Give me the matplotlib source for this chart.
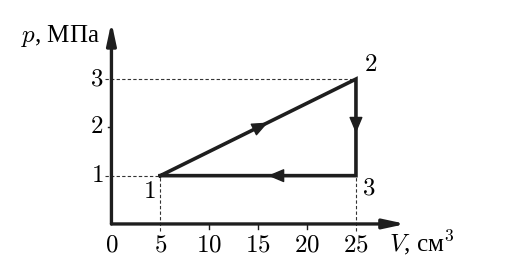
import matplotlib.pyplot as plt

plt.rcParams['mathtext.fontset'] = 'cm'
plt.rcParams['font.family'] = ['Liberation Serif', 'DejaVu Serif']

# cycle points (V in cm^3, p in MPa)
V_pts = [5, 25, 25, 5]
p_pts = [1, 3, 1, 1]
point_names = ['1', '2', '3']
x_ticks = [0, 5, 10, 15, 20, 25]
y_ticks = [1, 2, 3]

fig = plt.figure(figsize=(5.07, 2.67), dpi=100)
ax = fig.add_axes([0.1986, 0.0798, 0.625, 0.9045])
ax.set_xlim(-1.1, 31.3)
ax.set_ylim(-0.45, 4.55)
for s in ax.spines.values():
    s.set_visible(False)
ax.set_xticks([])
ax.set_yticks([])

dark = '#1e1e1e'
# axes with arrows
for tip in [(30.1, 0), (0, 4.18)]:
    ax.annotate('', xy=tip, xytext=(0, 0),
                arrowprops=dict(arrowstyle='-|>,head_length=1.3,head_width=0.28', lw=2.4, color=dark,
                                shrinkA=0, shrinkB=0, mutation_scale=10))

# dashed guides
dash = dict(ls=(0, (3, 2)), lw=0.8, color='#333')
ax.plot([-0.7, V_pts[1]], [p_pts[1], p_pts[1]], **dash)
ax.plot([-0.7, V_pts[0]], [p_pts[0], p_pts[0]], **dash)
ax.plot([V_pts[0], V_pts[0]], [-0.15, p_pts[0]], **dash)
ax.plot([V_pts[2], V_pts[2]], [-0.15, p_pts[2]], **dash)

# cycle
ax.plot(V_pts, p_pts, color=dark, lw=2.6, solid_joinstyle='miter')

# direction arrows on each segment
fracs = [0.55, 0.56, 0.45]
for i in range(3):
    x0, y0 = V_pts[i], p_pts[i]
    x1, y1 = V_pts[i + 1], p_pts[i + 1]
    f = fracs[i]
    xm, ym = x0 + (x1 - x0) * f, y0 + (y1 - y0) * f
    xs, ys = x0 + (x1 - x0) * (f - 0.05), y0 + (y1 - y0) * (f - 0.05)
    ax.annotate('', xy=(xm, ym), xytext=(xs, ys),
                arrowprops=dict(arrowstyle='-|>,head_length=1.0,head_width=0.42', lw=1, color=dark,
                                shrinkA=0, shrinkB=0, mutation_scale=10))

# ticks
for x in x_ticks:
    if x not in (0, 5, 25):
        ax.plot([x, x], [0, -0.1], color=dark, lw=1)
    ax.text(x, -0.56, f'${x}$', ha='center', va='baseline', fontsize=18)
for y in y_ticks:
    if y == 2:
        ax.plot([0, -0.4], [y, y], color=dark, lw=1)
    ax.text(-0.85, y, f'${y}$', ha='right', va='center', fontsize=18)

# point labels
ax.text(3.84, 0.66, '$' + point_names[0] + '$', ha='center', va='center', fontsize=18)
ax.text(26.5, 3.3, '$' + point_names[1] + '$', ha='center', va='center', fontsize=18)
ax.text(26.3, 0.74, '$' + point_names[2] + '$', ha='center', va='center', fontsize=18)

# axis labels
ax.text(-1.15, 3.9, '$p$, МПа', ha='right', va='center', fontsize=18)
ax.text(28.4, -0.56, '$V$, см$^3$', ha='left', va='baseline', fontsize=18)

fig.savefig('out.png', dpi=100)
